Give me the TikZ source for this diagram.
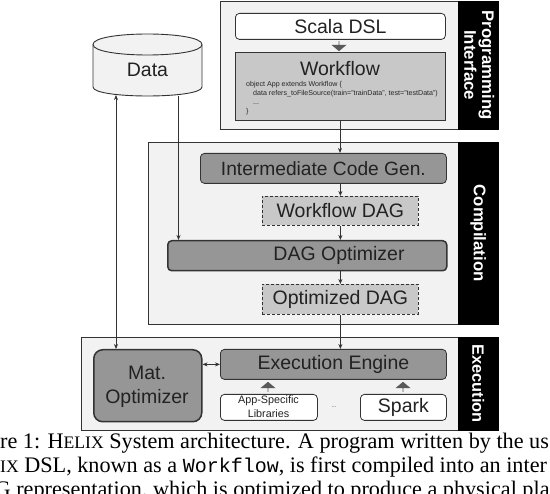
\documentclass[tikz,border=0pt]{standalone}
\usepackage{fontspec}
\setmainfont{Liberation Sans}
\newfontfamily\capfont{Liberation Serif}
\newfontfamily\capmono{Liberation Mono}
\usetikzlibrary{shapes.arrows,arrows.meta}
\definecolor{panelgray}{HTML}{F2F2F2}
\definecolor{midgray}{HTML}{969696}
\definecolor{lightgray}{HTML}{C8C8C8}
\definecolor{edgegray}{HTML}{333333}
\definecolor{inkgray}{HTML}{222222}
\newcommand{\fs}[1]{\fontsize{#1}{#1}\selectfont}
\tikzset{
  box/.style={draw=edgegray,line width=0.8pt,anchor=north west,inner sep=0pt,align=center,text=inkgray},
  panel/.style={box,fill=panelgray,line width=1pt},
  sidebar/.style={fill=black,draw=black,anchor=north west,inner sep=0pt},
  sidelabel/.style={text=white,rotate=-90,align=center,font=\bfseries\fs{16.8}},
  white box/.style={box,fill=white,rounded corners=4pt,font=\fs{19.5}},
  mid box/.style={box,fill=midgray,rounded corners=4pt,font=\fs{19.5}},
  heavy box/.style={mid box,line width=1.5pt},
  dash box/.style={box,fill=lightgray,dash pattern=on 3pt off 2pt,font=\fs{19.5}},
  label text/.style={font=\fs{19.5},inner sep=0pt,text=inkgray},
  link/.style={draw=edgegray,line width=0.9pt,-{Stealth[length=5pt,width=4pt]}},
  twoway/.style={draw=edgegray,line width=0.9pt,{Stealth[length=5pt,width=4pt]}-{Stealth[length=5pt,width=4pt]}},
  fat/.style={single arrow,draw=none,fill=black!65,minimum width=15pt,minimum height=10pt,single arrow head extend=3pt,single arrow tip angle=100,inner sep=0pt},
  codeline/.style={anchor=west,inner sep=0pt,font=\fs{7.1},text=black!85},
  captionline/.style={anchor=base west,inner sep=0pt,font=\capfont\fs{22.2}}
}
\begin{document}
\begin{tikzpicture}[x=1pt,y=-1pt]
\useasboundingbox (0,0) rectangle (550,494);
\fill[white] (0,0) rectangle (550,494);
% panels
\node[panel,minimum width=238pt,minimum height=128pt] (pi) at (220,1) {};
\node[sidebar,minimum width=40pt,minimum height=128pt] (pibar) at (458,1) {};
\node[sidelabel] (pilabel) at ([xshift=1pt]pibar.center) {Programming\\[1pt]Interface};
\node[panel,minimum width=310pt,minimum height=182pt] (co) at (148,142) {};
\node[sidebar,minimum width=40pt,minimum height=182pt] (cobar) at (458,142) {};
\node[sidelabel] (colabel) at (cobar.center) {Compilation};
\node[panel,minimum width=377pt,minimum height=93pt] (ex) at (81,337) {};
\node[sidebar,minimum width=40pt,minimum height=93pt] (exbar) at (458,337) {};
\node[sidelabel,font=\bfseries\fs{16.4}] (exlabel) at (exbar.center) {Execution};
% programming interface
\node[white box,minimum width=210pt,minimum height=26pt] (dsl) at (235,13) {Scala DSL};
\node[box,fill=lightgray,minimum width=210pt,minimum height=68pt] (wf) at (235,52) {};
\node[label text] (wft) at (340,69) {Workflow};
\node[codeline] (c1) at (246,85) {object App extends Workflow \{};
\node[codeline] (c2) at (253,94) {data refers\_toFileSource(train="trainData", test="testData")};
\node[codeline] (c3) at (253,104) {...};
\node[codeline] (c4) at (246,112) {\}};
\node[fat,shape border rotate=270] (a1) at (339,46) {};
% data
\draw[draw=edgegray,line width=0.9pt,fill=panelgray] (93,44.5) -- (93,87) .. controls (93,99) and (202,99) .. (202,87) -- (202,44.5) .. controls (202,30.5) and (93,30.5) .. cycle;
\draw[draw=edgegray,line width=0.9pt] (93,44.5) .. controls (93,58.5) and (202,58.5) .. (202,44.5);
\node[label text] (data) at (147.5,70) {Data};
\coordinate (dataL) at (116,95);
\coordinate (dataR) at (178.5,96);
% compilation
\node[mid box,font=\fs{19.2},minimum width=246pt,minimum height=30pt] (ig) at (200,153) {Intermediate Code Gen.};
\node[dash box,minimum width=156pt,minimum height=29pt] (wd) at (262,196) {Workflow DAG};
\node[heavy box,minimum width=279pt,minimum height=30pt] (dag) at (167,240) {};
\node[label text] (dagt) at (339,255) {DAG Optimizer};
\node[dash box,minimum width=156pt,minimum height=30pt] (od) at (262,284) {Optimized DAG};
% execution
\node[heavy box,rounded corners=9pt,minimum width=108pt,minimum height=72pt] (mat) at (93,349) {};
\node[label text] (matt1) at (147,373) {Mat.};
\node[label text] (matt2) at (147,398) {Optimizer};
\node[mid box,minimum width=226pt,minimum height=30pt] (ee) at (220,349) {Execution Engine};
\node[white box,minimum width=97pt,minimum height=26pt] (app) at (220,394) {};
\node[label text,font=\fs{10.8}] (appt1) at (268.5,401) {App-Specific};
\node[label text,font=\fs{10.8}] (appt2) at (268.5,414) {Libraries};
\node[white box,minimum width=86pt,minimum height=26pt] (spark) at (360,394) {Spark};
\node[inner sep=0pt,font=\fs{6},text=black!70] (dots) at (334,407) {...};
\node[fat,shape border rotate=90] (a2) at (268,387) {};
\node[fat,shape border rotate=90] (a3) at (403,387) {};
% connectors
\draw[link] (wf.south -| 340,0) -- (ig.north -| 340,0);
\draw[link] (ig.south -| wd.north) -- (wd.north);
\draw[link] (wd.south) -- (wd.south |- dag.north);
\draw[link] (od.north |- dag.south) -- (od.north);
\draw[link] (od.south) -- (od.south |- ee.north);
\draw[twoway] (mat.east |- ee.west) -- (ee.west);
\draw[twoway] (dataL) -- (dataL |- mat.north);
\draw[link] (dataR) -- (dataR |- dag.north);
% caption
\node[captionline] (cap1) at (0,449) {re 1: H{\fs{17.6}ELIX} System architecture. A program written by the us};
\node[captionline] (cap2) at (0,473) {{\fs{17.6}IX} DSL, known as a {\capmono\fs{20}Workflow}, is first compiled into an inter};
\node[captionline] (cap3) at (-5.5,497) {G representation, which is optimized to produce a physical pla};
\end{tikzpicture}
\end{document}
